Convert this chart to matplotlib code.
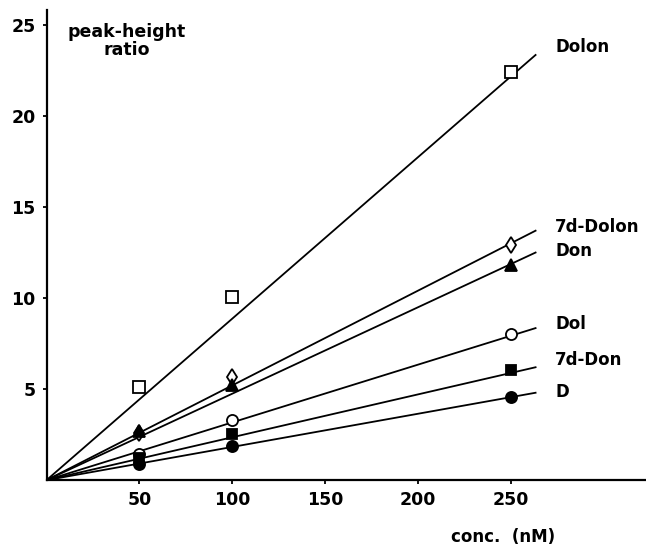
import matplotlib.pyplot as plt

# concentrations (nM)
conc = [50, 100, 250]

names = ["Dolon", "7d-Dolon", "Don", "Dol", "7d-Don", "D"]

# peak-height ratios
dolon = [5.1, 10.05, 22.4]
d7_dolon = [2.6, 5.66, 12.9]
don = [2.7, 5.2, 11.8]
dol = [1.45, 3.3, 8.0]
d7_don = [1.2, 2.55, 6.05]
d = [0.9, 1.87, 4.55]

# regression lines, drawn from the origin to x = 263.5
line_x = [0, 263.5]
line_end = [23.35, 13.7, 12.5, 8.35, 6.2, 4.8]

# label heights at the right end
label_y = [23.8, 13.9, 12.6, 8.6, 6.6, 4.85]

markers = ["s", "d", "^", "o", "s", "o"]
filled = [False, False, True, False, True, True]
sizes = [8, 8, 8, 8, 7, 8]

plt.rcParams["font.family"] = ["DejaVu Sans"]
plt.rcParams["font.weight"] = "bold"

fig = plt.figure(figsize=(6.46, 5.45), dpi=100)
ax = fig.add_axes([0.072, 0.119, 0.928, 0.862])

series = [dolon, d7_dolon, don, dol, d7_don, d]

for i, vals in enumerate(series):
    ax.plot(line_x, [0, line_end[i]], color="black", lw=1.3)
    ax.plot(
        conc,
        vals,
        linestyle="none",
        marker=markers[i],
        markersize=sizes[i],
        markeredgecolor="black",
        markeredgewidth=1.3,
        markerfacecolor="black" if filled[i] else "white",
        zorder=3,
    )
    ax.text(274, label_y[i], names[i], fontsize=12, fontweight="bold",
            va="center", ha="left")

ax.set_xlim(0, 323)
ax.set_ylim(0, 25.8)

ax.set_xticks([50, 100, 150, 200, 250])
ax.set_yticks([5, 10, 15, 20, 25])

ax.spines["top"].set_visible(False)
ax.spines["right"].set_visible(False)
ax.spines["left"].set_linewidth(1.6)
ax.spines["bottom"].set_linewidth(1.6)

ax.tick_params(direction="out", length=3, width=1.3, labelsize=12.5, pad=5)
for lab in ax.get_xticklabels() + ax.get_yticklabels():
    lab.set_fontweight("bold")

ax.text(43.4, 24.1, "peak-height\nratio", fontsize=12.5, fontweight="bold",
        ha="center", va="center", linespacing=1.0)

fig.text(503 / 646, 1 - 537 / 545, "conc.  (nM)", fontsize=12,
         fontweight="bold", ha="center", va="center")

plt.savefig("out.png", dpi=100)
